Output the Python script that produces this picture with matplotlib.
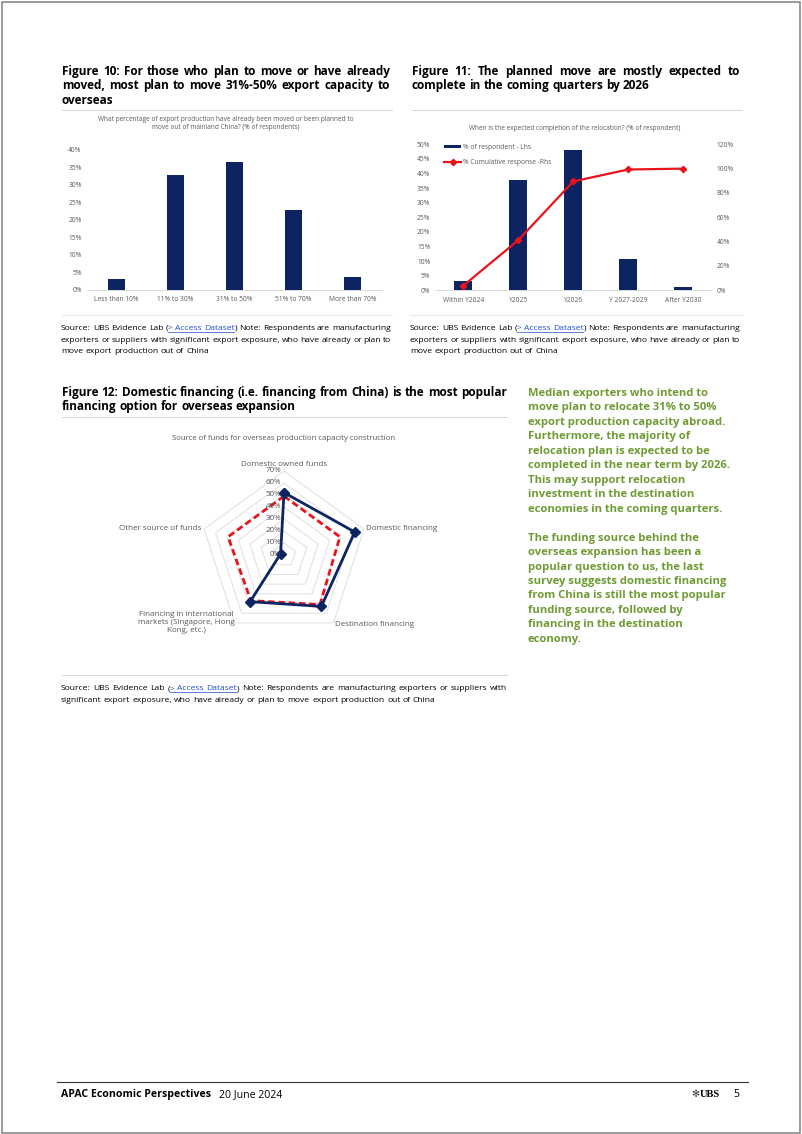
import matplotlib
matplotlib.use("Agg")
import matplotlib.pyplot as plt
import numpy as np
from matplotlib import font_manager
from matplotlib.lines import Line2D
from matplotlib.patches import Rectangle
from matplotlib.transforms import offset_copy

W, H = 802, 1134

# Figure 10: share of export capacity moved / planned to move
move_cats = ["Less than 10%", "11% to 30%", "31% to 50%", "51% to 70%", "More than 70%"]
move_vals = [3.2, 32.8, 36.7, 22.9, 3.8]

# Figure 11: expected completion of relocation
done_cats = ["Within Y2024", "Y2025", "Y2026", "Y 2027-2029", "After Y2030"]
done_pct = [3.3, 37.7, 48.0, 10.7, 1.1]
done_cum = [3.8, 41.2, 89.5, 99.3, 100.0]

# Figure 12: source of funds (radar)
fund_cats = ["Domestic owned funds", "Domestic financing", "Destination financing",
             "Financing in international\nmarkets (Singapore, Hong\nKong, etc.)",
             "Other source of funds"]
fund_blue = [52, 62, 53, 48, 3]
fund_red = [49, 49, 51, 47, 49]
fund_rings = [0, 10, 20, 30, 40, 50, 60, 70]

avail = {f.name for f in font_manager.fontManager.ttflist}
BODY = "Open Sans" if "Open Sans" in avail else "DejaVu Sans"
NARROW = "Liberation Sans Narrow" if "Liberation Sans Narrow" in avail else BODY
plt.rcParams["font.family"] = [BODY, "DejaVu Sans"]

NAVY = "#0c2461"
RED = "#e8141c"
GREEN = "#6e9b33"
GREY = "#595959"
LINK = "#1f4fd1"

fig = plt.figure(figsize=(W / 100, H / 100), dpi=100)
renderer = fig.canvas.get_renderer()


def fx(x):
    return x / W


def fy(y):
    return 1 - y / H


def hline(x0, x1, y, color="#d6d6d6", lw=0.7):
    fig.add_artist(Line2D([fx(x0), fx(x1)], [fy(y), fy(y)], color=color, lw=lw,
                          transform=fig.transFigure))


def measure(s, **kw):
    t = fig.text(0, 0, s, **kw)
    w = t.get_window_extent(renderer).width
    t.remove()
    return w


def parse_words(s, color):
    # text between [ and ] is drawn as a link
    words, runs, cur, link = [], [], "", False
    for ch in s:
        if ch in "[] ":
            if cur:
                runs.append((cur, LINK if link else color))
                cur = ""
            if ch == "[":
                link = True
            elif ch == "]":
                link = False
            elif runs:
                words.append(runs)
                runs = []
        else:
            cur += ch
    if cur:
        runs.append((cur, LINK if link else color))
    if runs:
        words.append(runs)
    return words


def put_line(s, x0, x1, y, justify=True, color="black", **kw):
    words = parse_words(s, color)
    widths = [[measure(t, **kw) for t, c in w] for w in words]
    total = sum(sum(w) for w in widths)
    space = measure("a a", **kw) - measure("aa", **kw)
    gap = (x1 - x0 - total) / (len(words) - 1) if justify and len(words) > 1 else space
    x = x0
    links = []
    for word, ws in zip(words, widths):
        for (t, c), w in zip(word, ws):
            fig.text(fx(x), fy(y), t, color=c, ha="left", va="baseline", **kw)
            if c == LINK:
                links.append((x, x + w))
            x += w
        x += gap
    if links:
        hline(links[0][0], links[-1][1], y + 1.5, color=LINK, lw=0.5)


def put_block(lines, x0, x1, y0, step, justify_last=False, **kw):
    for i, s in enumerate(lines):
        last = i == len(lines) - 1
        put_line(s, x0, x1, y0 + i * step, justify=(not last) or justify_last, **kw)


title_kw = dict(fontsize=8.5, fontweight="bold", family=BODY)
src_kw = dict(fontsize=6.1, family=BODY)

# ---- page frame and footer
fig.add_artist(Rectangle((fx(1.5), fy(1132.5)), (798.5) / W, 1131 / H, fill=False,
                         edgecolor="#808080", lw=1.1, transform=fig.transFigure))
hline(57, 748, 1082, color="#333333", lw=0.8)
fig.text(fx(61), fy(1097), "APAC Economic Perspectives", fontsize=7.6, fontweight="bold",
         family=NARROW, va="baseline")
fig.text(fx(219), fy(1097), "20 June 2024", fontsize=7.6, family=NARROW, va="baseline")
fig.text(fx(699), fy(1097), "\u273b", fontsize=7, family="DejaVu Sans", va="baseline",
         ha="right", color="#333333")
fig.text(fx(700), fy(1097), "UBS", fontsize=7.6, fontweight="bold", family="Liberation Serif",
         va="baseline")
fig.text(fx(733), fy(1097), "5", fontsize=7.6, family=NARROW, va="baseline")

# ---- Figure 10 / 11 headings
put_block(["Figure 10: For those who plan to move or have already",
           "moved, most plan to move 31%-50% export capacity to",
           "overseas"], 62, 390, 75, 14.3, **title_kw)
put_block(["Figure 11: The planned move are mostly expected to",
           "complete in the coming quarters by 2026"], 412, 740, 75, 14.3, **title_kw)
hline(62, 392, 110)
hline(412, 742, 110)

src3 = ["Source: UBS Evidence Lab ([> Access Dataset]) Note: Respondents are manufacturing",
        "exporters or suppliers with significant export exposure, who have already or plan to",
        "move export production out of China"]
hline(62, 392, 315, color="#e6e6e6")
hline(410, 742, 315, color="#e6e6e6")
put_block(src3, 61, 391, 330, 11.6, **src_kw)
put_block(src3, 410, 740, 330, 11.6, **src_kw)

small = 4.8

# ---- Figure 10 chart
fig.text(fx(226), fy(129), "What percentage of export production have already been moved or been planned to\n"
         "move out of mainland China? (% of respondents)", ha="center", va="baseline",
         fontsize=4.7, color=GREY, linespacing=1.2)
ax10 = fig.add_axes([fx(87.2), fy(290), 294.6 / W, 140 / H])
x10 = np.arange(len(move_cats))
ax10.bar(x10, move_vals, width=0.29, color=NAVY)
ax10.set_xlim(-0.5, len(move_cats) - 0.5)
ax10.set_ylim(0, 40)
ax10.set_yticks(np.arange(0, 41, 5))
ax10.set_yticklabels([f"{v}%" for v in range(0, 41, 5)])
ax10.set_xticks(x10)
ax10.set_xticklabels(move_cats)

# ---- Figure 11 chart
fig.text(fx(575), fy(130), "When is the expected completion of the relocation? (% of respondent)",
         ha="center", va="baseline", fontsize=4.7, color=GREY)
ax11 = fig.add_axes([fx(435.8), fy(290.3), 275 / W, 146 / H])
x11 = np.arange(len(done_cats))
bars = ax11.bar(x11, done_pct, width=0.33, color=NAVY, label="% of respondent - Lhs")
ax11.set_xlim(-0.5, len(done_cats) - 0.5)
ax11.set_ylim(0, 50)
ax11.set_yticks(np.arange(0, 51, 5))
ax11.set_yticklabels([f"{v}%" for v in range(0, 51, 5)])
ax11.set_xticks(x11)
ax11.set_xticklabels(done_cats)
ax11b = ax11.twinx()
line, = ax11b.plot(x11, done_cum, color=RED, lw=1.6, marker="D", ms=3.2,
                   label="% Cumulative response -Rhs")
ax11b.set_ylim(0, 120)
ax11b.set_yticks(np.arange(0, 121, 20))
ax11b.set_yticklabels([f"{v}%" for v in range(0, 121, 20)])
leg = ax11b.legend(handles=[bars, line], loc="upper left", bbox_to_anchor=(0.03, 1.0),
                   frameon=False, fontsize=small, handlelength=2.6, handleheight=0.35,
                   handletextpad=0.3, labelspacing=1.2, borderpad=0, borderaxespad=0)
for t in leg.get_texts():
    t.set_color(GREY)

for ax in (ax10, ax11, ax11b):
    for s in ax.spines.values():
        s.set_visible(False)
    ax.tick_params(length=0, labelsize=small, labelcolor=GREY, pad=4)
for ax in (ax10, ax11):
    ax.spines["bottom"].set_visible(True)
    ax.spines["bottom"].set_color("#d9d9d9")
    ax.spines["bottom"].set_linewidth(0.7)
    ax.tick_params(axis="x", pad=4.5)

# ---- Figure 12
put_block(["Figure 12: Domestic financing (i.e. financing from China) is the most popular",
           "financing option for overseas expansion"], 62, 507, 395.7, 14.3, **title_kw)
hline(62, 507, 417)
fig.text(fx(284), fy(440), "Source of funds for overseas production capacity construction",
         ha="center", va="baseline", fontsize=5.6, color=GREY)

cx, cy, R = 284, 555, 84
ax12 = fig.add_axes([fx(cx - R), fy(cy + R), 2 * R / W, 2 * R / H], projection="polar")
ax12.set_theta_offset(np.pi / 2)
ax12.set_theta_direction(-1)
ax12.set_ylim(0, 70)
ax12.grid(False)
ax12.set_xticks([])
ax12.set_yticks([])
ax12.spines["polar"].set_visible(False)
ax12.patch.set_alpha(0)
ang = np.arange(len(fund_cats)) * 2 * np.pi / len(fund_cats)
ang_c = np.append(ang, ang[0])
for r in fund_rings[1:]:
    ax12.plot(ang_c, [r] * len(ang_c), color="#dadada", lw=0.6, zorder=1)
ax12.plot(ang_c, fund_red + fund_red[:1], color=RED, lw=2.0, ls=(0, (2.4, 1.3)), zorder=3)
ax12.plot(ang_c, fund_blue + fund_blue[:1], color=NAVY, lw=2.0, marker="D", ms=5, zorder=4)
rl = offset_copy(ax12.transData, fig=fig, x=-3, y=0, units="dots")
for r in fund_rings:
    ax12.text(0, r, f"{r}%", ha="right", va="center", fontsize=5.8, color=GREY,
              transform=rl, zorder=5)
lab_kw = dict(fontsize=5.8, color=GREY)
ax12.text(ang[0], 75, fund_cats[0], ha="center", va="center", **lab_kw)
ax12.text(ang[1], 72, fund_cats[1], ha="left", va="center", **lab_kw)
ax12.text(ang[2], 72, fund_cats[2], ha="left", va="center", **lab_kw)
ax12.text(ang[3], 70, fund_cats[3], ha="right", va="center", multialignment="center",
          linespacing=1.2, **lab_kw)
ax12.text(ang[4], 72, fund_cats[4], ha="right", va="center", **lab_kw)

hline(62, 507, 675)
put_block(["Source: UBS Evidence Lab ([> Access Dataset]) Note: Respondents are manufacturing exporters or suppliers with",
           "significant export exposure, who have already or plan to move export production out of China"],
          61, 507, 690.5, 11.2, **src_kw)

# ---- commentary
green_kw = dict(fontsize=8.1, fontweight="bold", family=BODY, color=GREEN)
p1 = ["Median exporters who intend to", "move plan to relocate 31% to 50%",
      "export production capacity abroad.", "Furthermore, the majority of",
      "relocation plan is expected to be", "completed in the near term by 2026.",
      "This may support relocation", "investment in the destination",
      "economies in the coming quarters."]
p2 = ["The funding source behind the", "overseas expansion has been a",
      "popular question to us, the last", "survey suggests domestic financing",
      "from China is still the most popular", "funding source, followed by",
      "financing in the destination", "economy."]
for i, s in enumerate(p1):
    fig.text(fx(527.5), fy(395.7 + i * 14.5), s, ha="left", va="baseline", **green_kw)
for i, s in enumerate(p2):
    fig.text(fx(527.5), fy(540.7 + i * 14.43), s, ha="left", va="baseline", **green_kw)

fig.savefig("out.png", dpi=100)
